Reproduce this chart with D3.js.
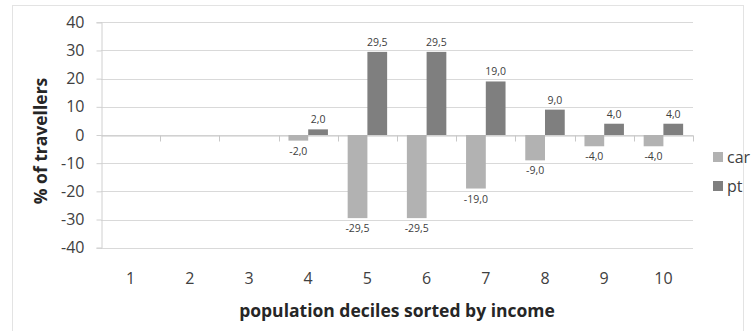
<!DOCTYPE html>
<html>
<head>
<meta charset="utf-8">
<script src="https://cdn.jsdelivr.net/npm/d3@7/dist/d3.min.js"></script>
<style>
  html, body { margin: 0; padding: 0; background: #fff; }
  svg { display: block; }
  text { font-family: "Open Sans", "DejaVu Sans", sans-serif; }
</style>
</head>
<body>
<svg id="chart" width="753" height="331"></svg>
<script>
// Deciles and change in share of travellers per mode
const deciles = ["1", "2", "3", "4", "5", "6", "7", "8", "9", "10"];
const carValues = [null, null, null, -2.0, -29.5, -29.5, -19.0, -9.0, -4.0, -4.0];
const ptValues  = [null, null, null, 2.0, 29.5, 29.5, 19.0, 9.0, 4.0, 4.0];
const seriesNames = ["car", "pt"];
const yTicks = [40, 30, 20, 10, 0, -10, -20, -30, -40];

const colors = { car: "#b2b2b2", pt: "#7f7f7f" };
// one decimal, decimal comma, plain hyphen for negatives
const fmt = v => d3.format(".1f")(v).replace(".", ",").replace("\u2212", "-");

const svg = d3.select("#chart");

// Outer chart frame
svg.append("rect")
  .attr("x", 12.5).attr("y", 5.5)
  .attr("width", 731).attr("height", 330)
  .attr("fill", "none").attr("stroke", "#e3e3e3");

const plot = { left: 101, right: 693, top: 22.3, bottom: 247.7 };

const x = d3.scaleBand().domain(deciles).range([plot.left, plot.right]).paddingInner(0).paddingOuter(0);
const xInner = d3.scaleBand().domain(seriesNames).range([0, x.bandwidth()]).paddingInner(0).paddingOuter(0.5);
const y = d3.scaleLinear().domain([-40, 40]).range([plot.bottom, plot.top]);

// Horizontal gridlines
svg.append("g").selectAll("line").data(yTicks).join("line")
  .attr("x1", plot.left).attr("x2", plot.right)
  .attr("y1", d => Math.round(y(d)) + 0.5).attr("y2", d => Math.round(y(d)) + 0.5)
  .attr("stroke", "#d9d9d9").attr("stroke-width", 1);

// Y axis
const yAxis = svg.append("g")
  .attr("transform", `translate(${plot.left + 0.5},0)`)
  .call(d3.axisLeft(y).tickValues(yTicks).tickSize(5).tickPadding(12).tickFormat(d => String(d)));
yAxis.select(".domain").attr("stroke", "#d0d0d0");
yAxis.selectAll(".tick line").attr("stroke", "#d0d0d0");
yAxis.selectAll(".tick text").attr("font-size", 16).attr("fill", "#404040")
  .attr("font-family", "'Open Sans', sans-serif");

// Zero baseline with category tick marks
const zeroY = Math.round(y(0)) + 0.5;
const xAxis = svg.append("g")
  .attr("transform", `translate(0,${zeroY})`)
  .call(d3.axisBottom(x).tickSize(0).tickFormat(""));
xAxis.select(".domain").attr("stroke", "#c8c8c8");
xAxis.selectAll(".tick").remove();
const boundaries = deciles.slice(1).map(d => x(d)).concat([plot.right]);
svg.append("g").selectAll("line").data(boundaries).join("line")
  .attr("x1", d => Math.round(d) + 0.5).attr("x2", d => Math.round(d) + 0.5)
  .attr("y1", zeroY).attr("y2", zeroY + 6)
  .attr("stroke", "#c8c8c8");

// Category labels
svg.append("g").selectAll("text").data(deciles).join("text")
  .attr("x", d => x(d) + x.bandwidth() / 2)
  .attr("y", 284)
  .attr("text-anchor", "middle")
  .attr("font-size", 16).attr("fill", "#404040")
  .text(d => d);

// Bars
const rows = deciles.map((d, i) => ({ decile: d, car: carValues[i], pt: ptValues[i] }));
const groups = svg.append("g").selectAll("g").data(rows).join("g")
  .attr("transform", d => `translate(${x(d.decile)},0)`);

const cells = d => seriesNames.filter(s => d[s] !== null).map(s => ({ key: s, value: d[s] }));

groups.selectAll("rect")
  .data(cells)
  .join("rect")
  .attr("x", d => xInner(d.key))
  .attr("width", xInner.bandwidth())
  .attr("y", d => y(Math.max(0, d.value)))
  .attr("height", d => Math.abs(y(d.value) - y(0)))
  .attr("fill", d => colors[d.key]);

// Value labels
groups.selectAll("text")
  .data(cells)
  .join("text")
  .attr("x", d => xInner(d.key) + xInner.bandwidth() / 2)
  .attr("y", d => d.value >= 0 ? y(d.value) - 6 : y(d.value) + 14)
  .attr("text-anchor", "middle")
  .attr("font-size", 10.5).attr("fill", "#404040")
  .text(d => fmt(d.value));

// Axis titles
svg.append("text")
  .attr("transform", `translate(47,141) rotate(-90)`)
  .attr("text-anchor", "middle")
  .attr("font-size", 17.5).attr("font-weight", "bold").attr("fill", "#262626")
  .text("% of travellers");

svg.append("text")
  .attr("x", (plot.left + plot.right) / 2)
  .attr("y", 317)
  .attr("text-anchor", "middle")
  .attr("font-size", 17.5).attr("font-weight", "bold").attr("fill", "#262626")
  .text("population deciles sorted by income");

// Legend
const legend = svg.append("g").selectAll("g").data(seriesNames).join("g")
  .attr("transform", (d, i) => `translate(713,${152 + i * 29})`);
legend.append("rect").attr("width", 10).attr("height", 10).attr("fill", d => colors[d]);
legend.append("text").attr("x", 14).attr("y", 10.5)
  .attr("font-size", 16).attr("fill", "#404040").text(d => d);
</script>
</body>
</html>
